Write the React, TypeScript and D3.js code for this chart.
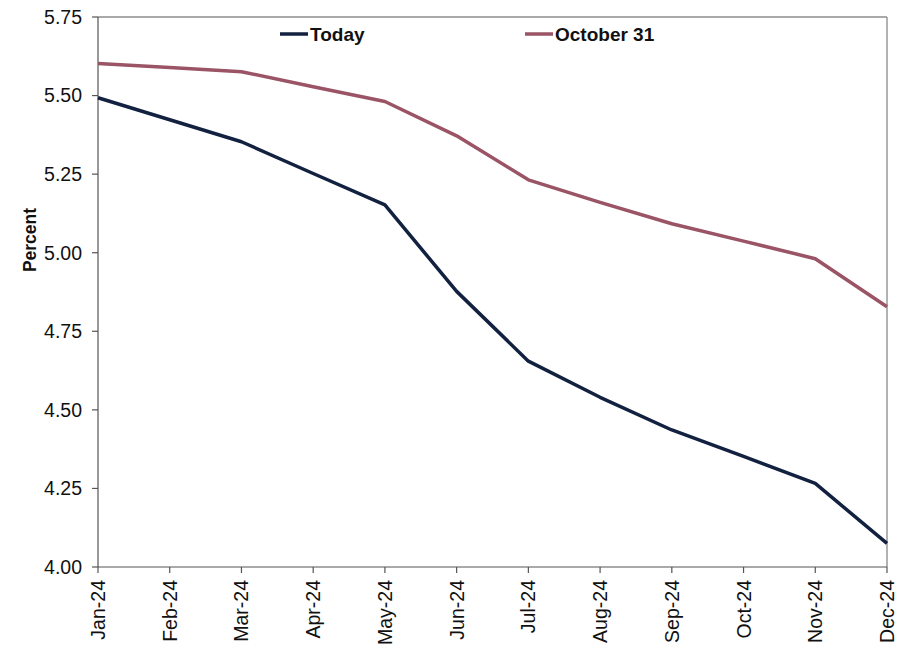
import React from "react";
import * as d3 from "d3";

const months = ["Jan-24","Feb-24","Mar-24","Apr-24","May-24","Jun-24","Jul-24","Aug-24","Sep-24","Oct-24","Nov-24","Dec-24"];
const today = [5.493, 5.423, 5.353, 5.252, 5.152, 4.877, 4.655, 4.540, 4.436, 4.352, 4.266, 4.075];
const oct31 = [5.602, 5.589, 5.576, 5.528, 5.481, 5.372, 5.232, 5.160, 5.092, 5.037, 4.981, 4.828];
const yTicks = [4.0, 4.25, 4.5, 4.75, 5.0, 5.25, 5.5, 5.75];

const W = 900, H = 654;
const L = 98, R = 887, T = 17, B = 567;
const FONT = "'Liberation Sans', Arial, sans-serif";

export default function App() {
  const x = d3.scalePoint<string>().domain(months).range([L, R]);
  const y = d3.scaleLinear().domain([4.0, 5.75]).range([B, T]);
  const line = d3.line<number>().x((_, i) => x(months[i])!).y(d => y(d));

  return (
    <svg width={W} height={H} style={{ position: "absolute", left: 0, top: 0 }} fontFamily={FONT}>
      <rect x={0} y={0} width={W} height={H} fill="#fff" />
      <line x1={L} x2={R} y1={T} y2={T} stroke="#555" strokeWidth={1.2} />
      <line x1={R} x2={R} y1={T} y2={B} stroke="#999" strokeWidth={1.5} />
      <line x1={L} x2={L} y1={T} y2={B} stroke="#555" strokeWidth={1.2} />
      <line x1={L} x2={R} y1={B} y2={B} stroke="#555" strokeWidth={1.2} />
      {yTicks.map(t => (
        <g key={t}>
          <line x1={L - 6} x2={L} y1={y(t)} y2={y(t)} stroke="#555" strokeWidth={1.2} />
          <text x={82} y={y(t)} dy="0.35em" textAnchor="end" fontSize={19.5} fill="#111">{t.toFixed(2)}</text>
        </g>
      ))}
      {months.map(m => (
        <g key={m}>
          <line x1={x(m)} x2={x(m)} y1={B} y2={B + 6} stroke="#555" strokeWidth={1.2} />
          <text transform={`translate(${x(m)! + 7},${B + 13}) rotate(-90)`} textAnchor="end" fontSize={19.5} fill="#111">{m}</text>
        </g>
      ))}
      <text transform={`translate(36,240) rotate(-90)`} textAnchor="middle" fontSize={17.5} fontWeight="bold" fill="#111">Percent</text>
      <path d={line(oct31)!} fill="none" stroke="#9a5466" strokeWidth={3.5} strokeLinejoin="round" />
      <path d={line(today)!} fill="none" stroke="#12213f" strokeWidth={3.5} strokeLinejoin="round" />
      <line x1={280} x2={308} y1={34} y2={34} stroke="#12213f" strokeWidth={3.5} />
      <text x={310} y={34} dy="0.35em" fontSize={19} fontWeight="bold" fill="#111">Today</text>
      <line x1={525} x2={553} y1={34} y2={34} stroke="#9a5466" strokeWidth={3.5} />
      <text x={555} y={34} dy="0.35em" fontSize={19} fontWeight="bold" fill="#111">October 31</text>
    </svg>
  );
}
